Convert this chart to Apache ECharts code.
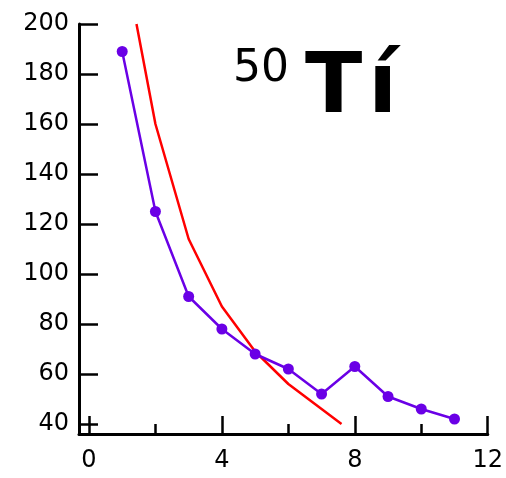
<!DOCTYPE html>
<html><head><meta charset="utf-8">
<script src="https://cdn.jsdelivr.net/npm/echarts@6/dist/echarts.min.js"></script>
<style>html,body{margin:0;padding:0;background:#fff}#c{width:506px;height:478px}</style>
</head><body><div id="c"></div>
<script>
const purpleX = [1,2,3,4,5,6,7,8,9,10,11];
const purpleY = [189,125,91,78,68,62,52,63,51,46,42];
const redX = [1.43,2,3,4,5,6,7,7.6];
const redY = [200,160,114,87,69,56,46,40];
const xMajorTicks = [0,4,8,12];
const xMinorTicks = [2,6,10];
const yTicks = [40,60,80,100,120,140,160,180,200];
const titleMass = '50';
const titleSym1 = 'T';
const titleSym2 = 'í';

const chart = echarts.init(document.getElementById('c'));
const font = 'DejaVu Sans';
chart.setOption({
  animation:false,
  backgroundColor:'#fff',
  grid:{left:79,right:17,top:24,bottom:44,containLabel:false},
  xAxis:[{
    type:'value',min:-0.3,max:12,
    axisLine:{show:true,onZero:false,lineStyle:{color:'#000',width:3}},
    axisTick:{show:true,inside:true,length:18,customValues:xMajorTicks,lineStyle:{color:'#000',width:2.5}},
    axisLabel:{show:true,customValues:xMajorTicks,margin:15,color:'#000',fontSize:24,fontFamily:font},
    splitLine:{show:false}
  },{
    type:'value',min:-0.3,max:12,position:'bottom',
    axisLine:{show:false,onZero:false},
    axisTick:{show:true,inside:true,length:10,customValues:xMinorTicks,lineStyle:{color:'#000',width:2.5}},
    axisLabel:{show:false},
    splitLine:{show:false}
  }],
  yAxis:{
    type:'value',min:36,max:200,
    axisLine:{show:true,onZero:false,lineStyle:{color:'#000',width:3}},
    axisTick:{show:true,inside:true,length:19,customValues:yTicks,lineStyle:{color:'#000',width:2.5}},
    axisLabel:{show:true,customValues:yTicks,margin:10,color:'#000',fontSize:24,fontFamily:font},
    splitLine:{show:false}
  },
  series:[{
    type:'line',xAxisIndex:0,
    data:redX.map((x,i)=>[x,redY[i]]),
    symbol:'none',lineStyle:{color:'#ff0000',width:2.5},z:2
  },{
    type:'line',xAxisIndex:0,
    data:purpleX.map((x,i)=>[x,purpleY[i]]),
    symbol:'circle',symbolSize:11,
    itemStyle:{color:'#6a00e6'},
    lineStyle:{color:'#6a00e6',width:2.5},z:3
  }],
  graphic:[{
    type:'text',left:233,top:48,
    style:{
      rich:{
        a:{fontSize:44,fontFamily:font,fill:'#000',verticalAlign:'top',padding:[0,16,34,0]},
        b:{fontSize:84,fontFamily:font,fontWeight:'bold',fill:'#000',padding:[0,6,0,0]},
        c:{fontSize:84,fontFamily:font,fontWeight:'bold',fill:'#000'}
      },
      text:'{a|'+titleMass+'}{b|'+titleSym1+'}{c|'+titleSym2+'}'
    }
  }]
});
</script></body></html>
